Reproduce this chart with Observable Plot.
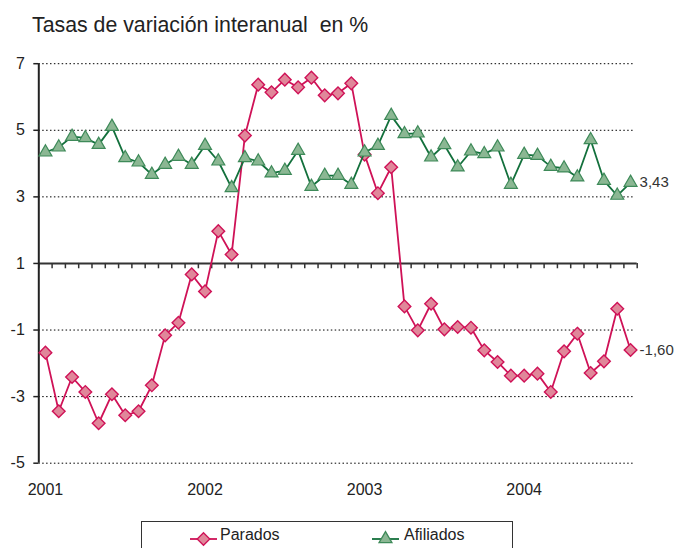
<!DOCTYPE html>
<html>
<head>
<meta charset="utf-8">
<script src="https://cdn.jsdelivr.net/npm/d3@7"></script>
<script src="https://cdn.jsdelivr.net/npm/@observablehq/plot@0.6"></script>
<style>
html, body { margin: 0; padding: 0; overflow: hidden; background: #fff; }
#wrap { position: relative; width: 675px; height: 548px; overflow: hidden; font-family: "Liberation Sans", Arial, sans-serif; color: #222; }
#title { position: absolute; left: 32px; top: 13px; font-size: 21.3px; line-height: normal; white-space: pre; color: #222; }
#chart { position: absolute; left: 0; top: 40px; }
#legend { position: absolute; left: 141px; top: 521px; width: 372px; height: 40px; border: 1.5px solid #333; box-sizing: border-box; }
.lg { position: absolute; top: 4px; font-size: 16px; line-height: normal; white-space: pre; }
.lgsym { position: absolute; top: 8px; }
</style>
</head>
<body>
<div id="wrap">
  <div id="title">Tasas de variación interanual  en %</div>
  <div id="chart"></div>
  <div id="legend"></div>
</div>
<script>
// Categories: months Jan 2001 – Sep 2004
const months = [
  "ene-01","feb-01","mar-01","abr-01","may-01","jun-01","jul-01","ago-01","sep-01","oct-01","nov-01","dic-01",
  "ene-02","feb-02","mar-02","abr-02","may-02","jun-02","jul-02","ago-02","sep-02","oct-02","nov-02","dic-02",
  "ene-03","feb-03","mar-03","abr-03","may-03","jun-03","jul-03","ago-03","sep-03","oct-03","nov-03","dic-03",
  "ene-04","feb-04","mar-04","abr-04","may-04","jun-04","jul-04","ago-04","sep-04"
];
// Series values (% interannual change)
const parados = [
  -1.68,-3.44,-2.41,-2.86,-3.80,-2.93,-3.56,-3.44,-2.66,-1.16,-0.78,0.67,
  0.16,1.97,1.27,4.84,6.37,6.14,6.52,6.29,6.58,6.05,6.11,6.41,
  4.27,3.11,3.89,-0.29,-1.01,-0.21,-0.98,-0.91,-0.93,-1.61,-1.96,-2.37,
  -2.37,-2.31,-2.86,-1.64,-1.11,-2.29,-1.94,-0.36,-1.60
];
const afiliados = [
  4.34,4.49,4.81,4.77,4.57,5.11,4.17,4.04,3.67,3.97,4.21,3.97,
  4.54,4.07,3.27,4.17,4.07,3.71,3.79,4.39,3.31,3.64,3.64,3.37,
  4.34,4.54,5.44,4.89,4.91,4.19,4.56,3.89,4.37,4.29,4.49,3.37,
  4.27,4.24,3.91,3.86,3.59,4.71,3.49,3.04,3.43
];
// Tick labels
const yearLabels = ["2001","2002","2003","2004"];
const yearMonths = ["ene-01","ene-02","ene-03","ene-04"];
const yTicks = [7,5,3,1,-1,-3,-5];
const gridValues = [7,5,3,-1,-3,-5];
const baseValue = 1;
const seriesNames = ["Parados","Afiliados"];

const pinkLine = "#cf1257", pinkFill = "#e0879a";
const greenLine = "#13703c", greenFill = "#8bb793", greenEdge = "#3e8a59";

const n = months.length;
const data = months.map((m, i) => ({i, m, parados: parados[i], afiliados: afiliados[i]}));
const bounds = d3.range(n + 1).map(k => k - 0.5);
const yearIdx = yearMonths.map(m => months.indexOf(m));
const fmt = v => v.toFixed(2).replace(".", ",");
const last = data[n - 1];

const chart = Plot.plot({
  width: 675,
  height: 470,
  marginLeft: 38.3,
  marginRight: 38.3,
  marginTop: 23.2,
  marginBottom: 47.3,
  x: {domain: [-0.5, n - 0.5], axis: null},
  y: {domain: [-5, 7], axis: null},
  style: {fontFamily: "'Liberation Sans', Arial, sans-serif", fontSize: "16px", color: "#222", background: "transparent", overflow: "visible"},
  marks: [
    Plot.ruleY(gridValues, {x1: -0.5, x2: n - 0.7, stroke: "#000", strokeWidth: 1, strokeDasharray: "1.5,2.4"}),
    Plot.ruleY([baseValue], {x1: -0.5, x2: n - 0.5, stroke: "#333", strokeWidth: 2}),
    Plot.ruleX(bounds, {y1: baseValue, y2: baseValue - 0.16, stroke: "#333", strokeWidth: 1.5}),
    Plot.ruleX([-0.5], {y1: -5, y2: 7, stroke: "#222", strokeWidth: 2}),
    Plot.axisY({ticks: yTicks, tickSize: 5, tickPadding: 9, tickFormat: d => String(d), label: null, stroke: "#222", strokeWidth: 1.5}),
    Plot.axisX({ticks: yearIdx, tickFormat: i => yearLabels[yearIdx.indexOf(i)], tickSize: 0, tickPadding: 20, label: null}),
    Plot.line(data, {x: "i", y: "parados", stroke: pinkLine, strokeWidth: 1.8}),
    Plot.dot(data, {x: "i", y: "parados", symbol: "diamond2", r: 5.7, fill: pinkFill, stroke: pinkLine, strokeWidth: 1.4}),
    Plot.line(data, {x: "i", y: "afiliados", stroke: greenLine, strokeWidth: 1.8}),
    Plot.dot(data, {x: "i", y: "afiliados", symbol: "triangle", r: 4.8, fill: greenFill, stroke: greenEdge, strokeWidth: 1.2}),
    Plot.text([last], {x: "i", y: "afiliados", text: d => fmt(d.afiliados), dx: 9, textAnchor: "start", fill: "#333", fontSize: 15}),
    Plot.text([last], {x: "i", y: "parados", text: d => fmt(d.parados), dx: 9, textAnchor: "start", fill: "#333", fontSize: 15})
  ]
});
document.getElementById("chart").appendChild(chart);

// Legend
const legend = document.getElementById("legend");
const items = [
  {name: seriesNames[0], sym: "diamond", line: pinkLine, fill: pinkFill, edge: pinkLine, symX: 48, textX: 78},
  {name: seriesNames[1], sym: "triangle", line: greenLine, fill: greenFill, edge: greenEdge, symX: 230, textX: 262}
];
items.forEach(it => {
  const s = d3.create("svg").attr("class", "lgsym").attr("width", 28).attr("height", 18)
    .style("left", it.symX + "px");
  s.append("line").attr("x1", 0).attr("x2", 27).attr("y1", 9).attr("y2", 9)
    .attr("stroke", it.line).attr("stroke-width", 1.8);
  const path = it.sym === "diamond"
    ? d3.symbol(d3.symbolDiamond2, 101)()
    : d3.symbol(d3.symbolTriangle, 72)();
  s.append("path").attr("d", path).attr("transform", "translate(13.5,9)")
    .attr("fill", it.fill).attr("stroke", it.edge).attr("stroke-width", 1.3);
  legend.appendChild(s.node());
  const t = document.createElement("span");
  t.className = "lg";
  t.style.left = it.textX + "px";
  t.textContent = it.name;
  legend.appendChild(t);
});
</script>
</body>
</html>
